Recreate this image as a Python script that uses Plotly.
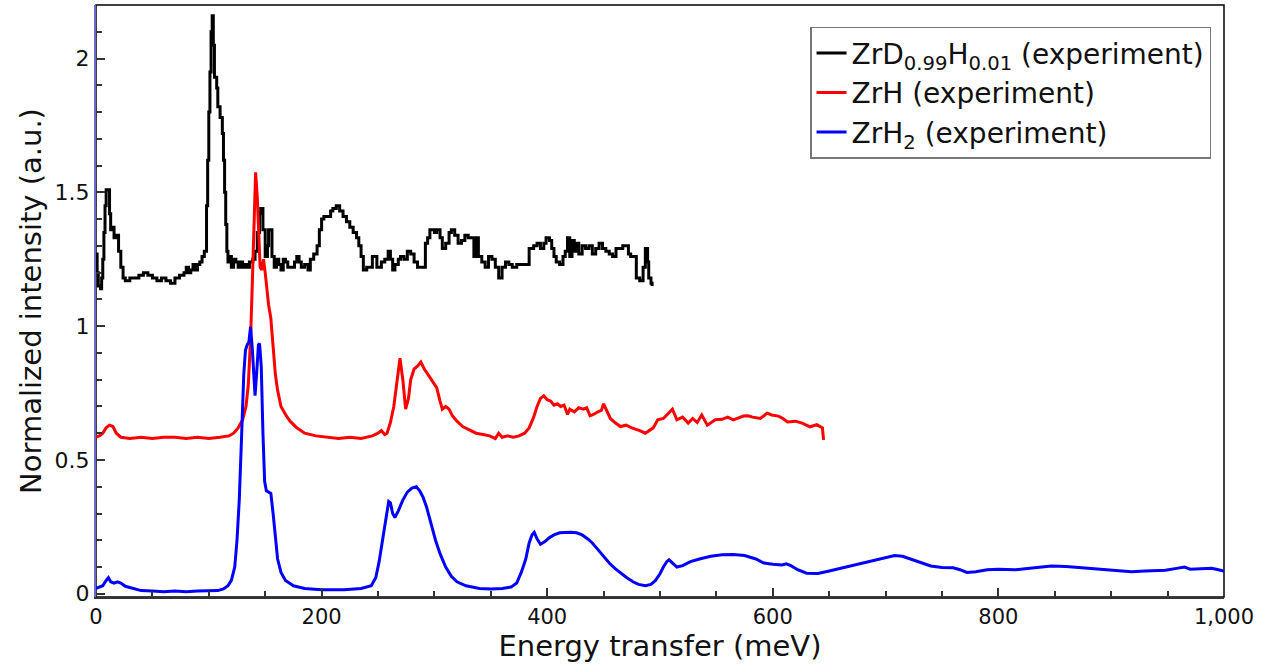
import plotly.graph_objects as go

# Inelastic neutron scattering spectra, normalized intensity vs energy transfer (meV)

# ZrD0.99H0.01 — histogram-style (stepped) spectrum
zrd_energy = [0, 1, 2, 4, 5, 6, 7, 8, 9, 11, 12, 13, 15, 16, 18, 20, 22, 24, 26, 30, 34, 38,
              42, 46, 50, 54, 58, 62, 66, 70, 74, 78, 80, 82, 84, 86, 88, 90, 92, 94, 96, 98,
              99, 100, 101, 102, 103, 104, 105, 107, 108, 110, 112, 113, 114, 115, 116, 117,
              119, 120, 122, 124, 126, 128, 130, 132, 134, 136, 139, 141, 143, 145, 146, 148,
              150, 152, 153, 155, 156, 158, 160, 162, 164, 166, 168, 170, 173, 176, 178, 180,
              182, 185, 188, 190, 193, 196, 198, 200, 202, 205, 208, 210, 213, 216, 219, 222,
              225, 228, 231, 233, 235, 237, 240, 243, 245, 247, 249, 251, 253, 256, 259, 261,
              263, 265, 268, 270, 273, 276, 279, 282, 285, 290, 292, 294, 296, 300, 302, 305,
              307, 310, 313, 315, 318, 321, 324, 327, 330, 333, 335, 337, 339, 342, 345, 348,
              351, 354, 357, 360, 363, 366, 369, 373, 378, 382, 384, 388, 391, 394, 397, 399,
              402, 404, 406, 408, 411, 414, 416, 418, 420, 422, 424, 426, 428, 431, 434, 437,
              440, 443, 446, 449, 452, 455, 458, 461, 464, 467, 470, 472, 474, 477, 479, 482,
              485, 487, 489, 490, 492, 493]
zrd_intensity = [1.27, 1.20, 1.15, 1.14, 1.18, 1.25, 1.35, 1.45, 1.51, 1.51, 1.42, 1.36, 1.37,
                 1.33, 1.34, 1.28, 1.22, 1.18, 1.17, 1.18, 1.18, 1.19, 1.20, 1.19, 1.18, 1.17,
                 1.18, 1.17, 1.16, 1.18, 1.19, 1.20, 1.22, 1.20, 1.21, 1.23, 1.21, 1.23, 1.24,
                 1.26, 1.28, 1.45, 1.62, 1.80, 1.95, 2.10, 2.16, 2.05, 1.93, 1.89, 1.82, 1.78,
                 1.72, 1.62, 1.50, 1.38, 1.28, 1.24, 1.26, 1.22, 1.25, 1.24, 1.22, 1.24, 1.22,
                 1.23, 1.22, 1.24, 1.25, 1.28, 1.35, 1.42, 1.44, 1.36, 1.26, 1.30, 1.36, 1.36,
                 1.26, 1.22, 1.25, 1.23, 1.21, 1.25, 1.24, 1.22, 1.22, 1.24, 1.26, 1.24, 1.22,
                 1.23, 1.21, 1.25, 1.27, 1.30, 1.36, 1.40, 1.41, 1.41, 1.43, 1.44, 1.45, 1.43,
                 1.41, 1.39, 1.37, 1.35, 1.33, 1.30, 1.26, 1.21, 1.22, 1.22, 1.26, 1.26, 1.22,
                 1.22, 1.24, 1.25, 1.28, 1.25, 1.21, 1.23, 1.25, 1.26, 1.25, 1.28, 1.27, 1.24,
                 1.22, 1.22, 1.31, 1.33, 1.36, 1.35, 1.36, 1.33, 1.29, 1.31, 1.35, 1.36, 1.34,
                 1.31, 1.32, 1.34, 1.33, 1.33, 1.26, 1.33, 1.26, 1.24, 1.22, 1.26, 1.25, 1.22,
                 1.18, 1.22, 1.24, 1.23, 1.22, 1.23, 1.23, 1.23, 1.29, 1.30, 1.31, 1.29, 1.31,
                 1.33, 1.32, 1.29, 1.26, 1.24, 1.23, 1.26, 1.28, 1.33, 1.26, 1.32, 1.28, 1.31,
                 1.27, 1.30, 1.29, 1.30, 1.27, 1.29, 1.31, 1.29, 1.28, 1.27, 1.26, 1.29, 1.29,
                 1.30, 1.30, 1.27, 1.26, 1.26, 1.18, 1.17, 1.22, 1.29, 1.24, 1.18, 1.16, 1.15]

# ZrH
zrh_energy = [0, 3, 6, 9, 12, 15, 18, 22, 30, 40, 50, 60, 70, 80, 90, 100, 110, 118, 122, 126,
              130, 133, 135, 137, 138.5, 140, 141.5, 143, 144.5, 145.5, 147, 148.5, 150, 151.5,
              153, 155, 157, 159, 161, 164, 168, 172, 178, 185, 195, 205, 215, 225, 235, 245,
              250, 253, 256, 258, 261, 264, 267, 269.5, 272, 274.5, 277, 279, 282, 285, 288,
              291, 295, 299, 302, 305, 307, 310, 313, 316, 320, 325, 330, 337, 343, 349, 354,
              357, 360, 365, 370, 375, 380, 384, 388, 391, 394, 397, 400, 403, 406, 409, 412,
              415, 418, 420, 424, 428, 432, 435, 438, 441, 445, 448, 450, 453, 456, 460, 465,
              470, 475, 482, 487, 494, 498, 503, 511, 515, 520, 525, 529, 533, 537, 542, 549,
              555, 560, 565, 574, 578, 582, 589, 595, 599, 605, 609, 613, 620, 626, 633, 639,
              644, 645]
zrh_intensity = [0.585, 0.59, 0.60, 0.62, 0.63, 0.625, 0.60, 0.585, 0.58, 0.585, 0.58, 0.585,
                 0.585, 0.58, 0.585, 0.58, 0.585, 0.59, 0.60, 0.62, 0.65, 0.70, 0.78, 0.95,
                 1.15, 1.40, 1.575, 1.48, 1.30, 1.22, 1.21, 1.25, 1.20, 1.14, 1.08, 1.03, 0.92,
                 0.82, 0.76, 0.70, 0.67, 0.645, 0.62, 0.60, 0.59, 0.585, 0.58, 0.585, 0.58,
                 0.59, 0.60, 0.61, 0.595, 0.60, 0.64, 0.70, 0.80, 0.88, 0.80, 0.69, 0.73, 0.80,
                 0.84, 0.85, 0.866, 0.84, 0.815, 0.79, 0.77, 0.72, 0.69, 0.70, 0.69, 0.665,
                 0.645, 0.625, 0.615, 0.60, 0.595, 0.59, 0.58, 0.60, 0.585, 0.59, 0.585, 0.59,
                 0.60, 0.62, 0.66, 0.70, 0.73, 0.74, 0.725, 0.72, 0.705, 0.71, 0.70, 0.705,
                 0.67, 0.69, 0.68, 0.695, 0.69, 0.695, 0.665, 0.67, 0.68, 0.685, 0.71, 0.68,
                 0.655, 0.64, 0.625, 0.63, 0.62, 0.61, 0.60, 0.62, 0.65, 0.655, 0.69, 0.65,
                 0.66, 0.638, 0.655, 0.64, 0.668, 0.63, 0.65, 0.652, 0.66, 0.65, 0.664, 0.665,
                 0.66, 0.655, 0.675, 0.668, 0.664, 0.655, 0.642, 0.645, 0.638, 0.624, 0.632,
                 0.62, 0.575]

# ZrH2
zrh2_energy = [0, 3, 6, 9, 11, 13, 16, 19, 22, 26, 32, 40, 50, 60, 70, 80, 90, 100, 108, 113,
               117, 120, 123, 125, 127, 129, 131, 132.5, 134, 135.5, 137, 138.5, 140, 141,
               142.5, 144, 145, 146.5, 148, 149.5, 151, 153, 155, 157, 159, 161, 164, 168,
               175, 185, 200, 220, 235, 244, 248, 251, 254, 257, 259.5, 261, 263, 265, 268,
               272, 276, 280, 284, 287, 290, 293, 297, 301, 305, 310, 315, 320, 328, 340, 350,
               360, 368, 373, 377, 381, 384, 386.5, 388.5, 391, 394, 398, 402, 406, 411, 416,
               421, 426, 431, 436, 440, 445, 450, 455, 460, 465, 470, 476, 481, 487, 492, 496,
               500, 503, 506, 508, 511, 515, 520, 527, 535, 545, 555, 565, 575, 585, 592, 600,
               608, 612, 616, 622, 630, 640, 650, 660, 670, 680, 690, 700, 708, 715, 722, 730,
               740, 750, 760, 766, 772, 780, 790, 800, 815, 830, 847, 860, 873, 890, 903, 918,
               930, 948, 958, 965, 970, 977, 989, 997, 1000]
zrh2_intensity = [0.02, 0.025, 0.03, 0.05, 0.06, 0.045, 0.04, 0.045, 0.04, 0.028, 0.02, 0.012,
                  0.01, 0.008, 0.01, 0.008, 0.01, 0.01, 0.012, 0.018, 0.03, 0.05, 0.10, 0.20,
                  0.35, 0.58, 0.82, 0.91, 0.93, 0.94, 0.997, 0.92, 0.80, 0.74, 0.83, 0.93,
                  0.935, 0.85, 0.60, 0.42, 0.385, 0.38, 0.375, 0.30, 0.22, 0.13, 0.08, 0.05,
                  0.03, 0.02, 0.015, 0.015, 0.02, 0.03, 0.06, 0.12, 0.20, 0.29, 0.345, 0.34,
                  0.30, 0.285, 0.31, 0.35, 0.38, 0.395, 0.40, 0.385, 0.36, 0.325, 0.26, 0.20,
                  0.15, 0.10, 0.065, 0.045, 0.03, 0.02, 0.018, 0.02, 0.025, 0.04, 0.08, 0.13,
                  0.19, 0.22, 0.23, 0.205, 0.185, 0.195, 0.21, 0.22, 0.228, 0.23, 0.23, 0.228,
                  0.22, 0.205, 0.19, 0.165, 0.14, 0.115, 0.095, 0.078, 0.062, 0.045, 0.035,
                  0.03, 0.035, 0.05, 0.075, 0.10, 0.12, 0.127, 0.115, 0.10, 0.105, 0.12, 0.13,
                  0.14, 0.146, 0.147, 0.143, 0.13, 0.115, 0.11, 0.108, 0.112, 0.105, 0.09,
                  0.077, 0.076, 0.085, 0.095, 0.105, 0.115, 0.125, 0.135, 0.143, 0.14, 0.13,
                  0.118, 0.104, 0.098, 0.097, 0.09, 0.08, 0.082, 0.09, 0.092, 0.09, 0.096,
                  0.104, 0.102, 0.098, 0.092, 0.087, 0.082, 0.085, 0.088, 0.095, 0.10, 0.092,
                  0.093, 0.095, 0.088, 0.085]

x_ticks = [0, 200, 400, 600, 800, 1000]
y_ticks = [0, 0.5, 1, 1.5, 2]

FONT = "DejaVu Sans, Verdana, sans-serif"

fig = go.Figure()
fig.add_trace(go.Scatter(
    x=zrd_energy, y=zrd_intensity, mode="lines", line_shape="hv",
    line=dict(color="#000000", width=3),
    name="ZrD<sub>0.99</sub>H<sub>0.01</sub> (experiment)"))
fig.add_trace(go.Scatter(
    x=zrh_energy, y=zrh_intensity, mode="lines",
    line=dict(color="#ff0000", width=3),
    name="ZrH (experiment)"))
fig.add_trace(go.Scatter(
    x=zrh2_energy, y=zrh2_intensity, mode="lines",
    line=dict(color="#0000ff", width=3),
    name="ZrH<sub>2</sub> (experiment)"))

# black frame around the plotting area
fig.add_shape(type="rect", xref="paper", yref="paper", x0=0, y0=0, x1=1, y1=1,
              line=dict(color="#000000", width=1.5), layer="below")

fig.update_layout(
    width=1265, height=670,
    margin=dict(l=96, r=41, t=5, b=73),
    paper_bgcolor="white", plot_bgcolor="white",
    font=dict(family=FONT, color="#111111", size=21),
    showlegend=True,
    legend=dict(
        x=0.633, y=0.963, xanchor="left", yanchor="top",
        bgcolor="white", bordercolor="#777777", borderwidth=1.5,
        font=dict(family=FONT, size=28, color="#111111"),
        traceorder="normal",
    ),
    xaxis=dict(
        range=[0, 1000], tickvals=x_ticks, tickformat=",d",
        ticks="inside", ticklen=9, tickwidth=1.5, tickcolor="#333333",
        minor=dict(dtick=50, ticks="inside", ticklen=6, tickwidth=1.5, tickcolor="#333333"),
        showline=True, linecolor="#333333", linewidth=1.5,
        showgrid=False, zeroline=False,
        tickfont=dict(size=21),
        title=dict(text="Energy transfer (meV)", font=dict(size=29), standoff=6),
    ),
    yaxis=dict(
        range=[-0.012, 2.2], tickvals=y_ticks,
        ticktext=["0", "0.5", "1", "1.5", "2"],
        ticks="inside", ticklen=9, tickwidth=1.5, tickcolor="#333333",
        minor=dict(dtick=0.1, ticks="inside", ticklen=6, tickwidth=1.5, tickcolor="#333333"),
        showline=True, linecolor="#6a6acc", linewidth=2,
        showgrid=False, zeroline=False,
        tickfont=dict(size=22),
        title=dict(text="Normalized intensity (a.u.)", font=dict(size=29), standoff=4),
    ),
)

fig.write_html("out.html")
